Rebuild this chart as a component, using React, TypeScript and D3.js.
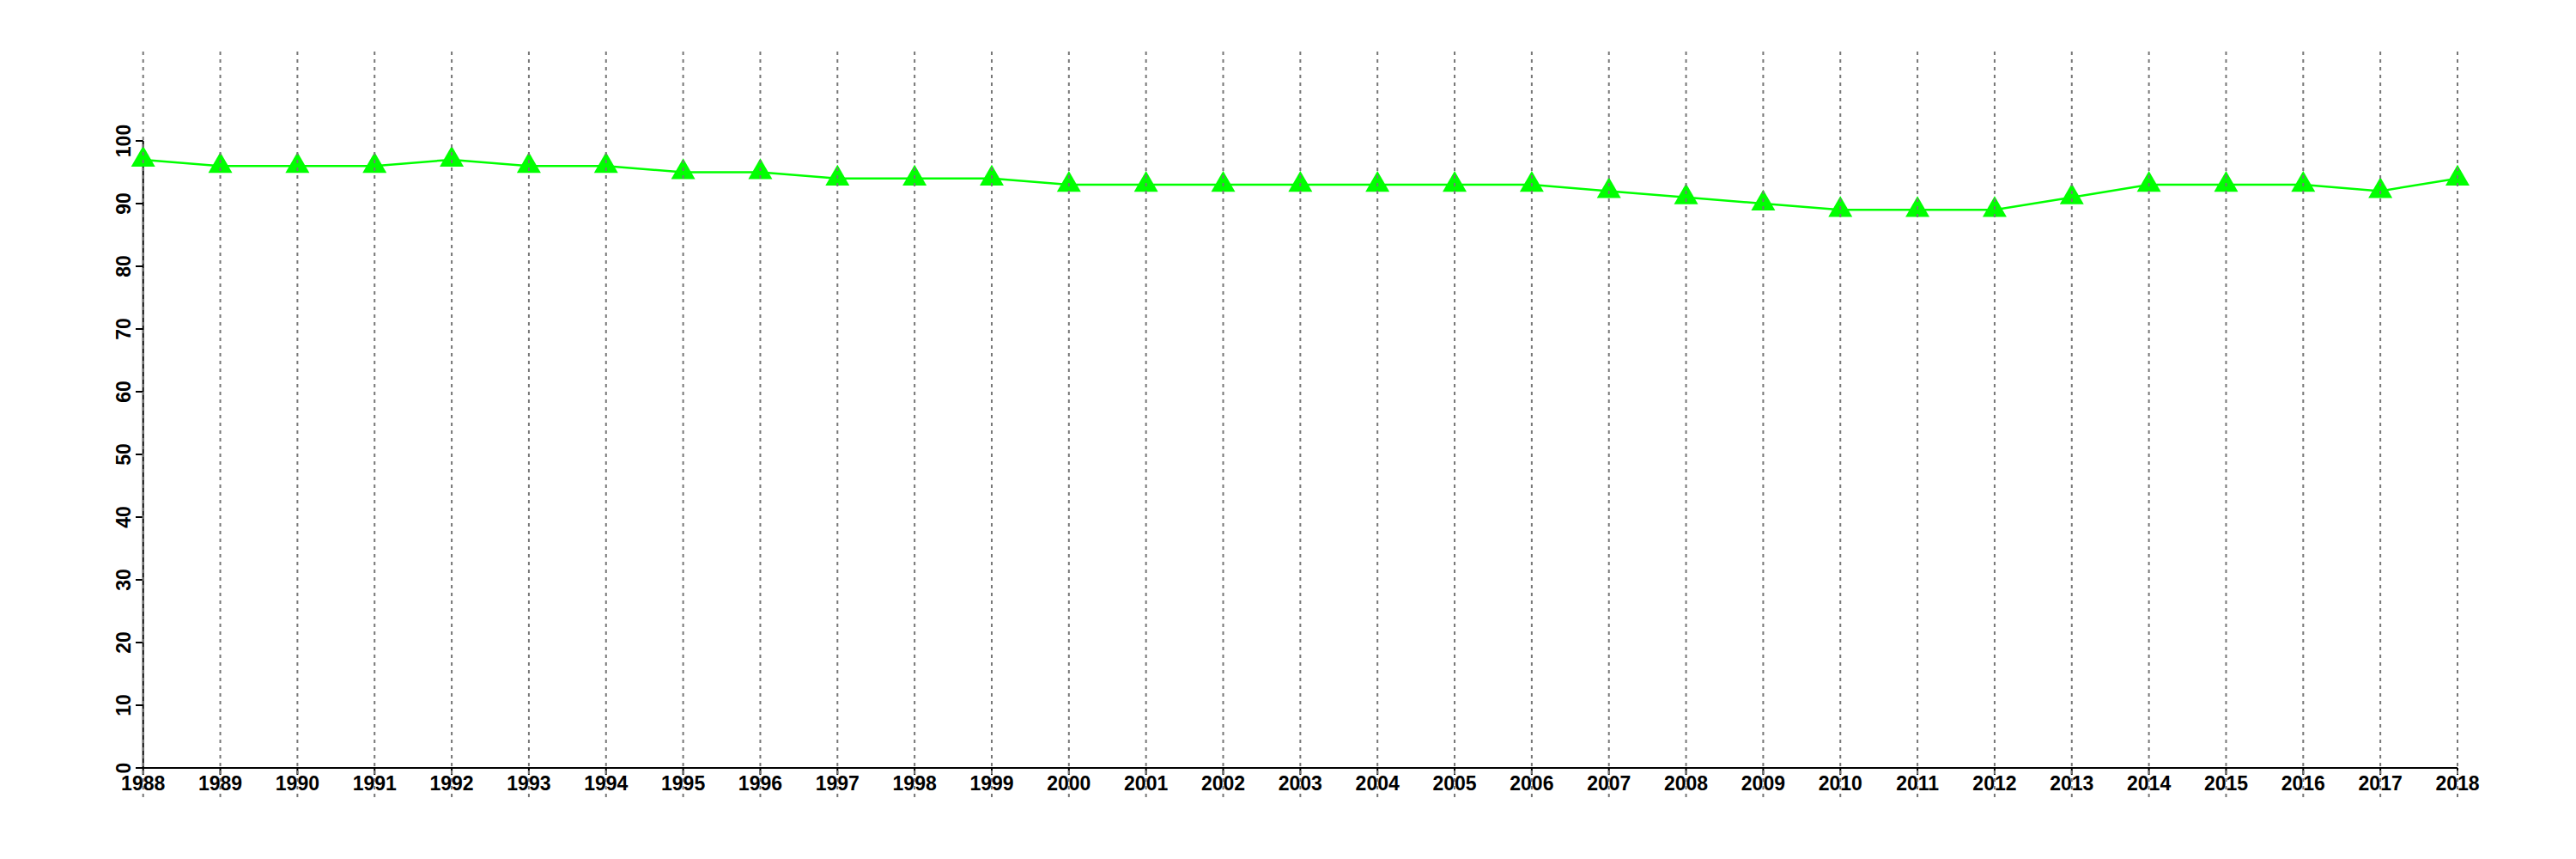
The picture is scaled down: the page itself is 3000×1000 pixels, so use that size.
import React from "react";
import * as d3 from "d3";

const years: number[] = [
  1988, 1989, 1990, 1991, 1992, 1993, 1994, 1995, 1996, 1997, 1998, 1999, 2000,
  2001, 2002, 2003, 2004, 2005, 2006, 2007, 2008, 2009, 2010, 2011, 2012, 2013,
  2014, 2015, 2016, 2017, 2018,
];
const values: number[] = [
  97, 96, 96, 96, 97, 96, 96, 95, 95, 94, 94, 94, 93, 93, 93, 93, 93, 93, 93, 92,
  91, 90, 89, 89, 89, 91, 93, 93, 93, 92, 94,
];
const yTicks: number[] = [0, 10, 20, 30, 40, 50, 60, 70, 80, 90, 100];

const W = 3000;
const H = 1000;
const FONT = "'Liberation Sans', Arial, Helvetica, sans-serif";

export default function App() {
  const x = d3.scaleLinear().domain([1988, 2018]).range([166.7, 2862]);
  const y = d3.scaleLinear().domain([0, 100]).range([894, 164]);
  const line = d3
    .line<number>()
    .x((_, i) => x(years[i]))
    .y((d) => y(d));
  const tri = d3.symbol().type(d3.symbolTriangle).size(339)() || "";

  return (
    <div style={{ position: "absolute", left: 0, top: 0 }}>
      <svg width={W} height={H} style={{ display: "block", background: "#fff" }}>
        {/* axes */}
        <line x1={x(1988)} x2={x(1988)} y1={y(100)} y2={y(0)} stroke="#000" strokeWidth={2} />
        <line x1={x(1988) - 8.7} x2={x(2018)} y1={y(0)} y2={y(0)} stroke="#000" strokeWidth={2} />
        {yTicks.map((t) => (
          <g key={"yt" + t}>
            <line x1={x(1988) - 8.7} x2={x(1988)} y1={y(t)} y2={y(t)} stroke="#000" strokeWidth={2} />
            <text
              transform={`translate(152,${y(t)}) rotate(-90)`}
              textAnchor="middle"
              fontFamily={FONT}
              fontWeight="bold"
              fontSize={23}
              fill="#000"
            >
              {t}
            </text>
          </g>
        ))}
        {years.map((yr) => (
          <g key={"xt" + yr}>
            <line x1={x(yr)} x2={x(yr)} y1={y(0)} y2={y(0) + 8} stroke="#000" strokeWidth={2} />
            <text
              x={x(yr)}
              y={920}
              textAnchor="middle"
              fontFamily={FONT}
              fontWeight="bold"
              fontSize={23}
              fill="#000"
            >
              {yr}
            </text>
          </g>
        ))}
        {/* series */}
        <path d={line(values) || ""} fill="none" stroke="#00ff00" strokeWidth={2.5} />
        {values.map((v, i) => (
          <path
            key={"m" + i}
            d={tri}
            transform={`translate(${x(years[i])},${y(v)})`}
            fill="#00ff00"
          />
        ))}
        {/* grid on top */}
        {years.map((yr) => (
          <line
            key={"g" + yr}
            x1={x(yr)}
            x2={x(yr)}
            y1={60}
            y2={928}
            stroke="#777"
            strokeWidth={2}
            strokeDasharray="4,5"
          />
        ))}
      </svg>
    </div>
  );
}
